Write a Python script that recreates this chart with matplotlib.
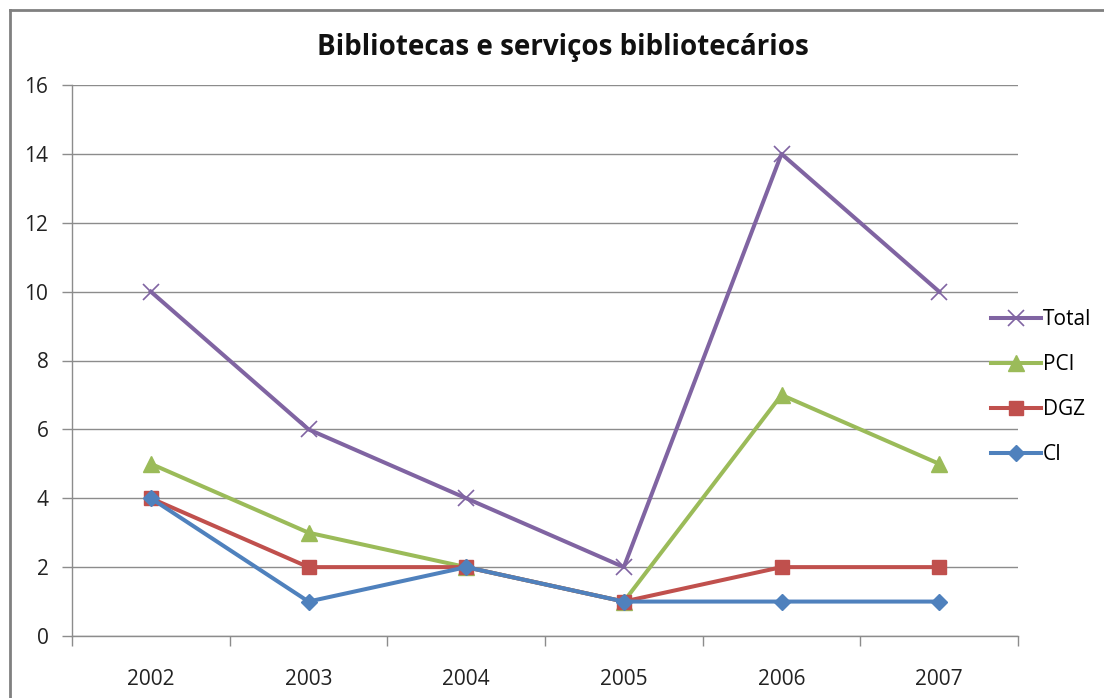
import matplotlib
matplotlib.use("Agg")
import matplotlib.pyplot as plt
from matplotlib.lines import Line2D

years = ["2002", "2003", "2004", "2005", "2006", "2007"]
total = [10, 6, 4, 2, 14, 10]
pci = [5, 3, 2, 1, 7, 5]
dgz = [4, 2, 2, 1, 2, 2]
ci = [4, 1, 2, 1, 1, 1]
yticks = [0, 2, 4, 6, 8, 10, 12, 14, 16]
title = "Bibliotecas e serviços bibliotecários"

plt.rcParams['font.family'] = ['Open Sans', 'DejaVu Sans']

W, H = 1104, 698
fig = plt.figure(figsize=(W / 100, H / 100), dpi=100)
ax = fig.add_axes([72 / W, 1 - 636 / H, (1018 - 72) / W, (636 - 85) / H])

x = list(range(len(years)))
grid_c = "#8c8c8c"

ax.plot(x, ci, color="#4F81BD", lw=2.9, marker="D", ms=8.5, zorder=5, label="CI")
ax.plot(x, dgz, color="#C0504D", lw=2.9, marker="s", ms=10, zorder=4, label="DGZ")
ax.plot(x, pci, color="#9BBB59", lw=2.9, marker="^", ms=11, zorder=3, label="PCI")
ax.plot(x, total, color="#8064A2", lw=2.9, marker="x", ms=12, mew=1.2, zorder=2, label="Total")

ax.set_xlim(-0.5, len(years) - 0.5)
ax.set_ylim(0, 16)
ax.set_yticks(yticks)
ax.set_yticklabels([str(v) for v in yticks], fontsize=15, color="#222222")
ax.set_xticks(x)
ax.set_xticklabels(years, fontsize=15, color="#222222")
ax.set_xticks([i - 0.5 for i in range(len(years) + 1)], minor=True)
ax.tick_params(axis="x", which="major", length=0, pad=24)
ax.tick_params(axis="x", which="minor", length=7, color=grid_c, width=1)
ax.tick_params(axis="y", length=7, color=grid_c, width=1, pad=10)
ax.grid(axis="y", color=grid_c, lw=1)
ax.set_axisbelow(True)
for s in ["top", "right"]:
    ax.spines[s].set_visible(False)
for s in ["left", "bottom"]:
    ax.spines[s].set_color(grid_c)
    ax.spines[s].set_linewidth(1)

fig.text(563 / W, 1 - 47 / H, title, ha="center", va="center",
         fontsize=20, fontweight="bold", color="#111111")

handles, labels = ax.get_legend_handles_labels()
order = [3, 2, 1, 0]
leg = fig.legend([handles[i] for i in order], [labels[i] for i in order],
                 loc="center left", bbox_to_anchor=(972 / W, 1 - 387 / H),
                 frameon=False, fontsize=15, labelspacing=1.15,
                 handlelength=2.4, handletextpad=0.1)

# outer border (partial, as in the screenshot)
fig.add_artist(Line2D([9.5 / W, 9.5 / W], [0, 1 - 10 / H], color="#808080", lw=2,
                      transform=fig.transFigure))
fig.add_artist(Line2D([9.5 / W, 1], [1 - 10 / H, 1 - 10 / H], color="#808080", lw=2,
                      transform=fig.transFigure))

fig.savefig("out.png", dpi=100)
